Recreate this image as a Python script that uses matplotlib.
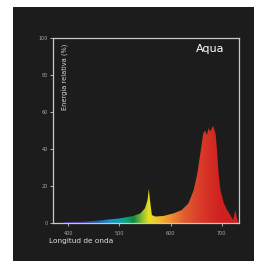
import matplotlib
matplotlib.use("Agg")
import matplotlib.pyplot as plt
import matplotlib.patches as mpatches
from matplotlib.colors import LinearSegmentedColormap
import numpy as np

# spectrum: wavelength (nm) -> relative energy (%)
wavelength = [388, 395, 436, 468, 501, 527, 541, 550, 555, 557.5, 560, 563.5,
              570, 586, 606, 622, 635, 645, 652, 658, 663.6, 665, 668, 671,
              674.5, 678, 683, 688, 691, 694, 697.5, 704, 710.6, 717, 722.4,
              727, 730, 733.4]
energy = [0, 0.5, 0.8, 1.6, 2.5, 3.8, 5.2, 8, 12.4, 18.5, 12, 4.3,
          3.5, 3.8, 5.2, 7, 10.6, 17.5, 26, 37, 47.6, 49, 50, 47.6,
          51.2, 49.5, 52.6, 48.5, 39.5, 27, 18, 11, 7, 4.3, 1.6,
          7, 2.5, 0]

# colour of the fill along the spectrum
color_nm = [388, 430, 460, 480, 500, 515, 528, 545, 558, 575, 600, 625, 660, 700, 735]
color_hex = ["#4030a0", "#3a3aa8", "#2060b8", "#1890c8", "#10a0b0", "#10a070",
             "#108a40", "#90c030", "#e8e020", "#f0c030", "#f09030", "#e06030",
             "#d83a28", "#d02020", "#d02020"]

x_ticks = [400, 500, 600, 700]
y_ticks = [0, 20, 40, 60, 80, 100]

bg = "#1c1c1c"
spine_col = "#c8c8c8"

W, H = 255, 261
fig = plt.figure(figsize=(W / 100, H / 100), dpi=100, facecolor="white")
fig.patches.append(mpatches.Rectangle((13 / W, 0), 1, (H - 7) / H,
                                      transform=fig.transFigure,
                                      facecolor=bg, edgecolor="none", zorder=0))

ax = fig.add_axes([53 / W, (H - 223) / H, (239 - 53) / W, (223 - 38) / H])
ax.set_zorder(2)
ax.set_facecolor(bg)
ax.set_xlim(370, 734)
ax.set_ylim(0, 100)

# gradient clipped by the spectrum outline
lo, hi = color_nm[0], color_nm[-1]
stops = [((n - lo) / (hi - lo), c) for n, c in zip(color_nm, color_hex)]
cmap = LinearSegmentedColormap.from_list("spec", stops)
grad = np.linspace(0, 1, 512).reshape(1, -1)
im = ax.imshow(grad, cmap=cmap, aspect="auto", extent=[lo, hi, 0, 60],
               origin="lower", zorder=2, interpolation="bilinear")
outline = ax.fill(wavelength, energy, facecolor="none", edgecolor="none")[0]
im.set_clip_path(outline)
ax.set_xlim(370, 734)
ax.set_ylim(0, 100)

for s in ax.spines.values():
    s.set_color(spine_col)
    s.set_linewidth(0.9)

ax.set_xticks(x_ticks)
ax.set_yticks(y_ticks)
ax.tick_params(axis="both", colors=spine_col, length=2.2, width=0.6,
               labelsize=3.5, labelcolor="#a8a8a8")
ax.tick_params(axis="x", pad=3.5)
ax.tick_params(axis="y", pad=1.5)

ax.text(0.92, 0.94, "Aqua", transform=ax.transAxes, ha="right", va="center",
        color="white", fontsize=8)
ax.text(0.065, 0.97, "Energía relativa (%)", transform=ax.transAxes,
        rotation=90, ha="center", va="top", color="#d8d8d8", fontsize=4.8)
fig.text(49 / W, 1 - 241 / H, "Longitud de onda", ha="left", va="center",
         color="#e0e0e0", fontsize=5.3)

fig.savefig("out.png", dpi=100, facecolor="white")
